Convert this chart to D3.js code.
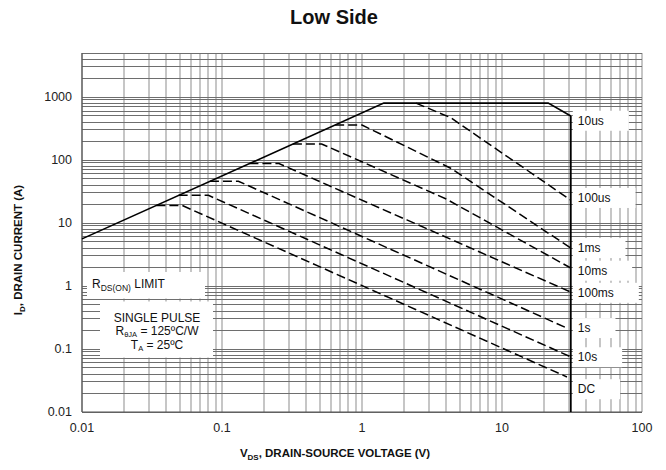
<!DOCTYPE html>
<html><head><meta charset="utf-8">
<script src="https://cdn.jsdelivr.net/npm/d3@7"></script>
<style>body{margin:0;background:#fff}svg{display:block;font-family:'Liberation Sans',Arial,sans-serif}</style>
</head><body><svg id="c" width="666" height="470"></svg>
<script>
// ---- data ----
const xTicks = [0.01, 0.1, 1, 10, 100];
const xTickLabels = ["0.01", "0.1", "1", "10", "100"];
const yTicks = [0.01, 0.1, 1, 10, 100, 1000];
const yTickLabels = ["0.01", "0.1", "1", "10", "100", "1000"];
// solid boundary: RDS(on) limit + 10us curve, and BVdss vertical
const limit10us = [[0.01, 5.6], [1.43, 800], [21.4, 800], [31, 500]];
const bvdssLine = [[31, 500], [31, 0.01]];
// dashed SOA curves (V, A)
const pulse100us = [[2.43, 800], [4.3, 470], [31, 23]];
const pulse1ms = [[0.643, 360], [1.0, 360], [4.3, 74], [31, 4.0]];
const pulse10ms = [[0.321, 180], [0.515, 180], [4.0, 24], [31, 1.93]];
const pulse100ms = [[0.157, 88], [0.255, 88], [2.09, 11.2], [31, 0.80]];
const pulse1s = [[0.082, 46], [0.131, 46], [29.1, 0.215]];
const pulse10s = [[0.049, 27.5], [0.08, 27.5], [31, 0.075]];
const pulseDC = [[0.034, 19], [0.052, 19], [29.1, 0.036]];
const curveNames = ["10us", "100us", "1ms", "10ms", "100ms", "1s", "10s", "DC"];
const labelValues = [420, 25, 4.0, 1.75, 0.78, 0.215, 0.074, 0.023];

// ---- layout ----
const svg = d3.select("#c");
const x = d3.scaleLog().domain([0.01, 100]).range([82, 642]);
const y = d3.scaleLog().domain([0.01, 5000]).range([412, 53]);

const xGrid = [], yGrid = [];
for (let e = -2; e <= 1; e++) for (let m = 1; m <= 9; m++) xGrid.push(m * Math.pow(10, e));
xGrid.push(100);
for (let e = -2; e <= 3; e++) for (let m = 1; m <= 9; m++) { const v = m * Math.pow(10, e); if (v <= 5000.0001) yGrid.push(v); }

const g = svg.append("g");
g.selectAll("line.vg").data(xGrid).join("line").attr("class", "vg")
  .attr("x1", d => x(d)).attr("x2", d => x(d)).attr("y1", y(5000)).attr("y2", y(0.01))
  .attr("stroke", "#c6c6c6").attr("stroke-width", 2).attr("shape-rendering", "crispEdges");
g.selectAll("line.hg").data(yGrid).join("line").attr("class", "hg")
  .attr("x1", x(0.01)).attr("x2", x(100)).attr("y1", d => y(d)).attr("y2", d => y(d))
  .attr("stroke", "#6e6e6e").attr("stroke-width", 1).attr("shape-rendering", "crispEdges");

g.append("line").attr("x1", x(0.01)).attr("x2", x(0.01)).attr("y1", y(5000)).attr("y2", y(0.01))
  .attr("stroke", "#555").attr("stroke-width", 1.2);
g.append("line").attr("x1", x(0.01)).attr("x2", x(100)).attr("y1", y(0.01)).attr("y2", y(0.01))
  .attr("stroke", "#555").attr("stroke-width", 1.2);

svg.append("rect").attr("x", 87).attr("y", 272).attr("width", 118).attr("height", 26.5).attr("fill", "#fff");
svg.append("rect").attr("x", 100).attr("y", 301.5).attr("width", 113).attr("height", 56).attr("fill", "#fff");

const lx = x(31) + 7;
const labelG = svg.append("g").attr("font-size", 12).attr("fill", "#111");
curveNames.forEach((n, i) => {
  const cy = y(labelValues[i]);
  const t = labelG.append("text").attr("x", lx).attr("y", cy).attr("dy", "0.35em").text(n);
  const w = t.node().getComputedTextLength();
  labelG.insert("rect", "text").attr("x", x(31) + 2).attr("y", cy - 10).attr("width", w + 30).attr("height", 20).attr("fill", "#fff");
});

const line = d3.line().x(d => x(d[0])).y(d => y(d[1]));
const dashed = [pulse100us, pulse1ms, pulse10ms, pulse100ms, pulse1s, pulse10s, pulseDC];
svg.selectAll("path.dash").data(dashed).join("path").attr("class", "dash")
  .attr("d", line).attr("fill", "none").attr("stroke", "#000").attr("stroke-width", 1.5)
  .attr("stroke-dasharray", "9,4");
svg.append("path").attr("d", line(limit10us)).attr("fill", "none").attr("stroke", "#000").attr("stroke-width", 1.6);
svg.append("path").attr("d", line(bvdssLine)).attr("fill", "none").attr("stroke", "#000").attr("stroke-width", 1.8);

svg.append("g").selectAll("text").data(xTicks).join("text")
  .attr("x", d => x(d)).attr("y", 432).attr("text-anchor", "middle").attr("font-size", 12.5).attr("fill", "#222")
  .text((d, i) => xTickLabels[i]);
svg.append("g").selectAll("text").data(yTicks).join("text")
  .attr("x", 72).attr("y", d => y(d)).attr("dy", "0.35em").attr("text-anchor", "end").attr("font-size", 12.5).attr("fill", "#222")
  .text((d, i) => yTickLabels[i]);

const a1 = svg.append("text").attr("x", 92).attr("y", 288).attr("font-size", 12).attr("fill", "#111");
a1.append("tspan").text("R");
a1.append("tspan").attr("font-size", 8.5).attr("dy", 3).text("DS(ON)");
a1.append("tspan").attr("dy", -3).text(" LIMIT");

const ax = 157;
svg.append("text").attr("x", ax).attr("y", 322).attr("text-anchor", "middle").attr("font-size", 12).attr("fill", "#111").text("SINGLE PULSE");
const a2 = svg.append("text").attr("x", ax).attr("y", 335).attr("text-anchor", "middle").attr("font-size", 12).attr("fill", "#111");
a2.append("tspan").text("R");
a2.append("tspan").attr("font-size", 7.5).attr("dy", 2).text("θJA");
a2.append("tspan").attr("dy", -2).text(" = 125ºC/W");
const a3 = svg.append("text").attr("x", ax).attr("y", 348.5).attr("text-anchor", "middle").attr("font-size", 12).attr("fill", "#111");
a3.append("tspan").text("T");
a3.append("tspan").attr("font-size", 7.5).attr("dy", 2).text("A");
a3.append("tspan").attr("dy", -2).text(" = 25ºC");

svg.append("text").attr("x", 334).attr("y", 24).attr("text-anchor", "middle").attr("font-size", 20).attr("font-weight", "bold").attr("fill", "#111").text("Low Side");

const xt = svg.append("text").attr("x", 335).attr("y", 457).attr("text-anchor", "middle").attr("font-size", 11.5).attr("font-weight", "bold").attr("fill", "#111");
xt.append("tspan").text("V");
xt.append("tspan").attr("font-size", 8).attr("dy", 3).text("DS");
xt.append("tspan").attr("dy", -3).text(", DRAIN-SOURCE VOLTAGE (V)");

const yt = svg.append("text").attr("transform", "translate(22,250) rotate(-90)").attr("text-anchor", "middle").attr("font-size", 11.5).attr("font-weight", "bold").attr("fill", "#111");
yt.append("tspan").text("I");
yt.append("tspan").attr("font-size", 8).attr("dy", 3).text("D");
yt.append("tspan").attr("dy", -3).text(", DRAIN CURRENT (A)");
</script></body></html>
